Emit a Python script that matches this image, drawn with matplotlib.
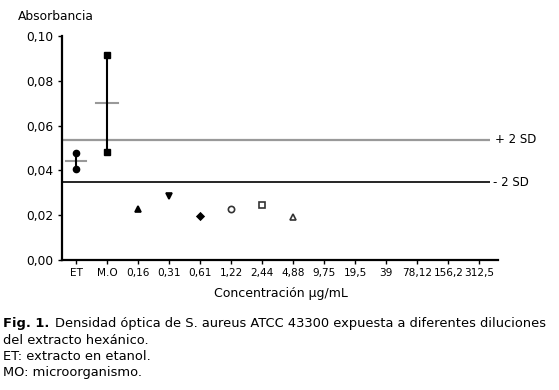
import numpy as np
import matplotlib.pyplot as plt

plt.rcParams['font.family'] = ['DejaVu Sans']

categorias = ["ET", "M.O", "0,16", "0,31", "0,61", "1,22", "2,44", "4,88",
              "9,75", "19,5", "39", "78,12", "156,2", "312,5"]

# controles: valores min / max y media
ctrl_x = [0, 1]
ctrl_min = [0.0405, 0.0484]
ctrl_max = [0.0476, 0.0915]
ctrl_media = [0.0440, 0.0700]

# diluciones con datos
dil_x = [2, 3, 4, 5, 6, 7]
dil_y = [0.0226, 0.0287, 0.0195, 0.0226, 0.0246, 0.0193]
dil_marker = ['^', 'v', 'D', 'o', 's', '^']
dil_fill = ['black', 'black', 'black', 'white', 'white', 'white']
dil_size = [5, 5, 3.5, 4.5, 5, 5]

mas_2sd = 0.0536
menos_2sd = 0.0347

fig = plt.figure(figsize=(5.59, 3.90), dpi=100)
ax = fig.add_axes([62/559, 1-260/390, 436/559, 224/390])

# lineas de referencia
ax.plot([-0.45, 13.35], [mas_2sd, mas_2sd], color='#999999', lw=1.6, solid_capstyle='butt')
ax.plot([-0.45, 13.35], [menos_2sd, menos_2sd], color='black', lw=1.2, solid_capstyle='butt')
ax.text(13.5, mas_2sd, "+ 2 SD", fontsize=8.5, va='center', ha='left')
ax.text(13.45, menos_2sd, "- 2 SD", fontsize=8.5, va='center', ha='left')

# controles
for i in range(len(ctrl_x)):
    w = 0.33 if i == 0 else 0.36
    ax.plot([ctrl_x[i] - w, ctrl_x[i] + w], [ctrl_media[i]] * 2, color='#999999', lw=1.5,
            zorder=2)
    ax.plot([ctrl_x[i], ctrl_x[i]], [ctrl_min[i], ctrl_max[i]], color='black', lw=1.5,
            zorder=3)
    m = 'o' if i == 0 else 's'
    ax.plot([ctrl_x[i]] * 2, [ctrl_min[i], ctrl_max[i]], ls='none', marker=m,
            ms=4.5, color='black', zorder=4)

for x, y, mk, fc, s in zip(dil_x, dil_y, dil_marker, dil_fill, dil_size):
    ax.plot(x, y, marker=mk, ms=s, mfc=fc, mec='black' if fc == 'black' else '#333333',
            mew=1.2, ls='none')

ax.set_xlim(-0.45, 13.6)
ax.set_ylim(0, 0.10)
ax.set_xticks(range(len(categorias)))
ax.set_xticklabels(categorias, fontsize=7.6)
ax.set_yticks([0, 0.02, 0.04, 0.06, 0.08, 0.10])
ax.set_yticklabels(["0,00", "0,02", "0,04", "0,06", "0,08", "0,10"], fontsize=8.8)
ax.tick_params(length=3, width=1, pad=3)
for s in ['top', 'right']:
    ax.spines[s].set_visible(False)
ax.spines['left'].set_linewidth(1.6)
ax.spines['bottom'].set_linewidth(1.6)

fig.text(18/559, 1-17/390, "Absorbancia", fontsize=8.8, va='center')
fig.text(281/559, 1-293/390, "Concentración µg/mL", fontsize=9,
         va='center', ha='center')

fs = 9.4
y0 = 1 - 324/390
dy = 16.3/390
fig.text(3/559, y0, "Fig. 1.", fontsize=fs, fontweight='bold', va='center')
fig.text(55/559, y0, "Densidad óptica de S. aureus ATCC 43300 expuesta a diferentes diluciones",
         fontsize=fs, va='center')
fig.text(3/559, y0 - dy, "del extracto hexánico.", fontsize=fs, va='center')
fig.text(3/559, y0 - 2*dy, "ET: extracto en etanol.", fontsize=fs, va='center')
fig.text(3/559, y0 - 3*dy, "MO: microorganismo.", fontsize=fs, va='center')

fig.savefig("out.png", dpi=100)
